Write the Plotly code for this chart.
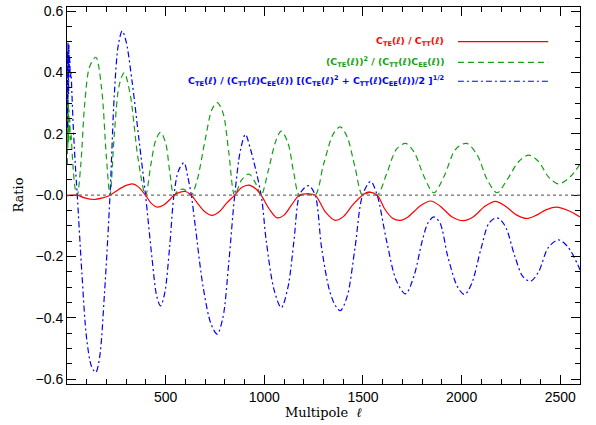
import plotly.graph_objects as go

# ---- data (multipole l, ratio) ----
te_tt_l = [2, 20, 52, 90, 137, 180, 218, 260, 300, 332, 360, 398, 425, 458, 490, 520, 542, 570, 601, 630,
           660, 700, 735, 770, 810, 850, 885, 922, 955, 984, 1025, 1065, 1100, 1140, 1178, 1224, 1258,
           1310, 1360, 1400, 1450, 1498, 1525, 1572, 1610, 1650, 1690, 1730, 1790, 1843, 1890, 1950,
           2010, 2060, 2120, 2172, 2220, 2280, 2330, 2380, 2430, 2483, 2540, 2600]
te_tt_v = [-0.002, 0.0, 0.0, -0.009, -0.014, -0.009, 0.0, 0.018, 0.032, 0.037, 0.028, 0.0, -0.025, -0.039,
           -0.032, -0.015, 0.0, 0.009, 0.012, 0.0, -0.025, -0.055, -0.066, -0.055, -0.025, 0.0, 0.025,
           0.033, 0.022, 0.0, -0.045, -0.074, -0.065, -0.03, 0.0, 0.004, 0.0, -0.055, -0.082, -0.07,
           -0.03, 0.0, 0.01, 0.0, -0.045, -0.075, -0.082, -0.07, -0.035, -0.019, -0.035, -0.07, -0.083,
           -0.07, -0.035, -0.02, -0.035, -0.065, -0.076, -0.065, -0.047, -0.039, -0.05, -0.071]

corr2_l = [2, 3, 4, 5, 6, 7, 8, 10, 12, 14, 17, 20, 25, 32, 42, 52, 70, 90, 115, 146, 175, 200, 218, 240,
           265, 290, 320, 360, 398, 425, 450, 474, 500, 520, 542, 562, 588, 610, 630, 660, 700, 735, 761,
           790, 820, 850, 885, 922, 955, 984, 1020, 1060, 1086, 1120, 1150, 1178, 1218, 1258, 1300, 1350,
           1385, 1420, 1460, 1498, 1535, 1572, 1620, 1670, 1716, 1760, 1810, 1859, 1910, 1970, 2025, 2080,
           2130, 2180, 2230, 2290, 2340, 2390, 2440, 2492, 2550, 2600]
corr2_v = [0.1, 0.3, 0.15, 0.34, 0.2, 0.3, 0.17, 0.28, 0.2, 0.25, 0.18, 0.2, 0.15, 0.08, 0.02, 0.0, 0.1,
           0.3, 0.42, 0.45, 0.35, 0.12, 0.0, 0.2, 0.36, 0.399, 0.33, 0.12, 0.0, 0.1, 0.18, 0.205, 0.17,
           0.08, 0.0, 0.015, 0.02, 0.012, 0.0, 0.05, 0.18, 0.28, 0.302, 0.27, 0.14, 0.0, 0.05, 0.069,
           0.04, 0.0, 0.08, 0.18, 0.209, 0.17, 0.07, 0.0, 0.005, 0.0, 0.1, 0.2, 0.223, 0.19, 0.09, 0.0,
           0.01, 0.0, 0.07, 0.15, 0.169, 0.14, 0.06, 0.008, 0.06, 0.15, 0.169, 0.13, 0.05, 0.008, 0.05,
           0.11, 0.131, 0.11, 0.06, 0.037, 0.06, 0.101]

norm_l = [2, 3, 4, 5, 6, 7, 8, 10, 12, 14, 17, 20, 25, 32, 42, 52, 75, 100, 125, 146, 165, 190, 218, 240,
          260, 280, 300, 330, 365, 398, 430, 455, 474, 495, 520, 542, 565, 593, 612, 630, 650, 690, 730,
          761, 790, 820, 850, 880, 904, 930, 984, 1010, 1050, 1086, 1120, 1150, 1178, 1205, 1227, 1258,
          1290, 1330, 1360, 1385, 1420, 1460, 1498, 1539, 1572, 1620, 1670, 1716, 1760, 1800, 1830, 1859,
          1890, 1930, 1980, 2015, 2050, 2100, 2140, 2180, 2220, 2270, 2310, 2349, 2390, 2440, 2492, 2540,
          2600]
norm_v = [0.22, 0.47, 0.3, 0.5, 0.38, 0.46, 0.33, 0.49, 0.4, 0.45, 0.38, 0.4, 0.33, 0.22, 0.1, 0.0, -0.25,
          -0.47, -0.56, -0.578, -0.53, -0.32, 0.0, 0.33, 0.49, 0.536, 0.5, 0.37, 0.18, 0.0, -0.2, -0.33,
          -0.361, -0.32, -0.17, 0.0, 0.08, 0.106, 0.06, 0.0, -0.1, -0.3, -0.42, -0.453, -0.4, -0.22, 0.0,
          0.15, 0.198, 0.15, 0.0, -0.15, -0.31, -0.367, -0.3, -0.15, 0.0, 0.025, 0.031, 0.0, -0.17,
          -0.31, -0.36, -0.377, -0.33, -0.17, 0.0, 0.045, 0.0, -0.15, -0.28, -0.322, -0.26, -0.15, -0.09,
          -0.071, -0.09, -0.2, -0.3, -0.324, -0.29, -0.17, -0.09, -0.074, -0.1, -0.2, -0.265, -0.281,
          -0.25, -0.17, -0.146, -0.17, -0.243]

y_ticks = [-0.6, -0.4, -0.2, 0.0, 0.2, 0.4, 0.6]
y_tick_text = ["\u22120.6", "\u22120.4", "\u22120.2", "\u22120.0", "0.2", "0.4", "0.6"]
x_ticks = [500, 1000, 1500, 2000, 2500]
x_tick_text = ["500", "1000", "1500", "2000", "2500"]

RED = "rgb(255,0,0)"
GREEN = "rgb(20,160,20)"
BLUE = "rgb(0,0,255)"
DASH_G = "6px,4px"
DASH_B = "6px,3px,2px,3px"

labels = [
    ("C<sub>TE</sub>(\u2113) / C<sub>TT</sub>(\u2113)", RED, "solid"),
    ("(C<sub>TE</sub>(\u2113))<sup>2</sup> / (C<sub>TT</sub>(\u2113)C<sub>EE</sub>(\u2113))", GREEN, DASH_G),
    ("C<sub>TE</sub>(\u2113) / (C<sub>TT</sub>(\u2113)C<sub>EE</sub>(\u2113)) "
     "[(C<sub>TE</sub>(\u2113)<sup>2</sup> + C<sub>TT</sub>(\u2113)C<sub>EE</sub>(\u2113))/2 ]<sup>1/2</sup>",
     BLUE, DASH_B),
]

fig = go.Figure()
fig.add_hline(y=0, line=dict(color="rgb(110,110,110)", width=1.2, dash="dot"))
fig.add_trace(go.Scatter(x=corr2_l, y=corr2_v, mode="lines",
                         line=dict(color=GREEN, width=1.2, dash=DASH_G, shape="spline", smoothing=0.9)))
fig.add_trace(go.Scatter(x=norm_l, y=norm_v, mode="lines",
                         line=dict(color=BLUE, width=1.2, dash=DASH_B, shape="spline", smoothing=0.9)))
fig.add_trace(go.Scatter(x=te_tt_l, y=te_tt_v, mode="lines",
                         line=dict(color=RED, width=1.2, shape="spline", smoothing=0.9)))

row_y = [0.908, 0.853, 0.803]
for (txt, col, dash), yy in zip(labels, row_y):
    fig.add_annotation(xref="paper", yref="paper", x=0.739, y=yy, text=txt, showarrow=False,
                       xanchor="right", yanchor="middle",
                       font=dict(family="DejaVu Sans", size=9.4, color=col, weight="bold"))
    fig.add_shape(type="line", xref="paper", yref="paper", x0=0.762, x1=0.938, y0=yy, y1=yy,
                  line=dict(color=col, width=1.2, dash=dash))

fig.add_annotation(xref="paper", yref="paper", x=-0.0955, y=0.5, text="Ratio", showarrow=False,
                   textangle=-90, xanchor="center", yanchor="middle",
                   font=dict(family="DejaVu Serif", size=13, color="black"))
fig.add_annotation(xref="paper", yref="paper", x=0.5, y=-0.076, text="Multipole  <i>\u2113</i>", showarrow=False,
                   xanchor="center", yanchor="middle",
                   font=dict(family="DejaVu Serif", size=13, color="black"))

axis_common = dict(showgrid=False, zeroline=False, showline=True, linecolor="black", linewidth=1,
                   mirror="ticks", ticks="inside", tickcolor="black", ticklen=9, tickwidth=1,
                   ticklabeloverflow="allow",
                   tickfont=dict(family="Liberation Sans", size=14, color="black"))
fig.update_xaxes(range=[0, 2600], tickvals=x_ticks, ticktext=x_tick_text,
                 minor=dict(ticks="inside", ticklen=5, dtick=100, tick0=0, tickcolor="black"),
                 **axis_common)
fig.update_yaxes(range=[-0.616, 0.614], tickvals=y_ticks, ticktext=y_tick_text,
                 minor=dict(ticks="inside", ticklen=5, dtick=0.05, tick0=0, tickcolor="black"),
                 **axis_common)
fig.update_layout(width=596, height=425, margin=dict(l=67, r=16, t=3, b=41),
                  plot_bgcolor="white", paper_bgcolor="white", showlegend=False)
fig.write_html("out.html", config={"displayModeBar": False},
               post_script="document.body.style.margin='0';")
